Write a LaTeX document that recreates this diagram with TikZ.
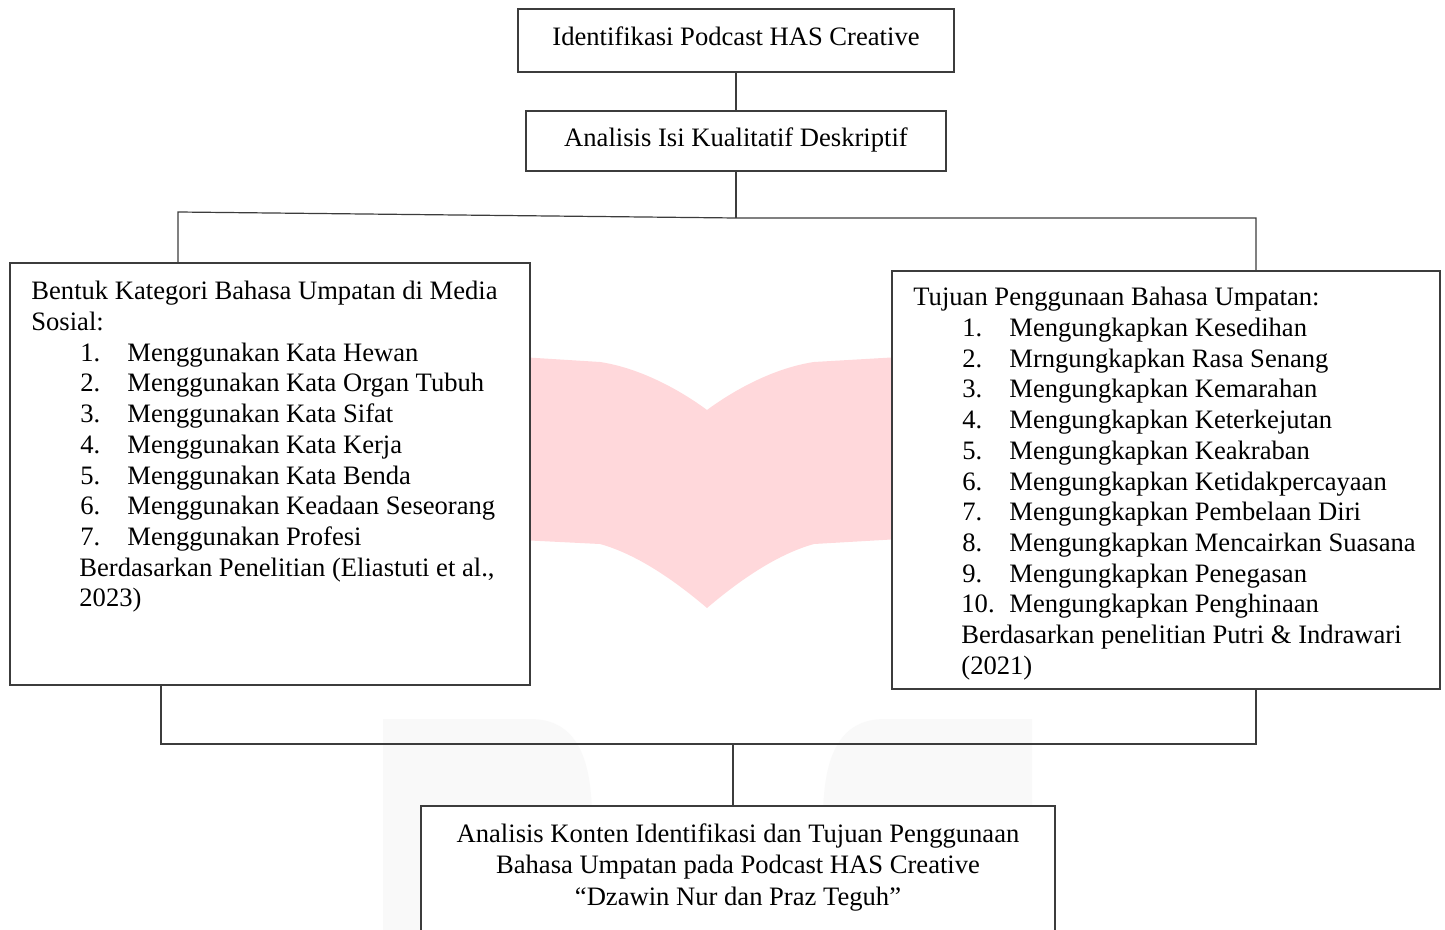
\documentclass[tikz,border=0pt]{standalone}
\usepackage{fontspec}
\setmainfont{Liberation Serif}
\usepackage{tikz}
\usetikzlibrary{positioning}
\definecolor{linegray}{RGB}{60, 60, 60}
\definecolor{bookpink}{RGB}{255, 216, 219}
\definecolor{markgray}{RGB}{249, 249, 249}
\newcommand{\txtfont}{\fontsize{13.3pt}{15.35pt}\selectfont}
\newcommand{\itm}[2]{\hspace*{24.5pt}\makebox[23.5pt][l]{#1}#2}
\tikzstyle{box} = [rectangle, draw=linegray, line width=0.8pt, fill=white, inner sep=0pt]
\tikzstyle{smallbox} = [box, font=\txtfont, text height=9pt, text depth=3.75pt]
\tikzstyle{boxtext} = [inner sep=0pt, font=\txtfont, align=left, text=black]
\tikzstyle{link}  = [draw=linegray, line width=0.6pt]

\begin{document}
\begin{tikzpicture}[x=0.5pt, y=-0.5pt]
\clip (0,0) rectangle (1445,930);
\fill[white] (0,0) rectangle (1445,930);

% watermark ==================================
\fill[bookpink] (520,357) -- (600,362) .. controls (640,368) and (680,390) .. (707,410)
  .. controls (734,390) and (774,368) .. (814,362) -- (900,357)
  -- (900,539) -- (814,544) .. controls (774,555) and (734,585) .. (707,608)
  .. controls (680,585) and (640,555) .. (600,544) -- (520,540) -- cycle;
\fill[markgray] (383,930) -- (383,719) -- (530,719) .. controls (575,719) and (592,755) .. (592,820) -- (592,930) -- cycle;
\fill[markgray] (1032,930) -- (1032,719) -- (885,719) .. controls (840,719) and (823,755) .. (823,820) -- (823,930) -- cycle;

% boxes ======================================
\node[smallbox, minimum width=218pt, minimum height=31.5pt] (ident) at (736,40.5) {Identifikasi Podcast HAS Creative};
\node[smallbox, minimum width=210pt, minimum height=30pt] (method) at (736,141) {Analisis Isi Kualitatif Deskriptif};
\node[box, minimum width=260pt, minimum height=211pt] (forms) at (270,474) {};
\node[box, minimum width=274pt, minimum height=209pt] (aims) at (1166,480) {};
\node[box, minimum width=317pt, minimum height=87pt] (result) at (738,893) {};

% box texts
\node[boxtext, anchor=north west] (formstext) at (31,281) {Bentuk Kategori Bahasa Umpatan di Media\\
Sosial:\\
\itm{1.}{Menggunakan Kata Hewan}\\
\itm{2.}{Menggunakan Kata Organ Tubuh}\\
\itm{3.}{Menggunakan Kata Sifat}\\
\itm{4.}{Menggunakan Kata Kerja}\\
\itm{5.}{Menggunakan Kata Benda}\\
\itm{6.}{Menggunakan Keadaan Seseorang}\\
\itm{7.}{Menggunakan Profesi}\\
\hspace*{24pt}Berdasarkan Penelitian (Eliastuti et al.,\\
\hspace*{24pt}2023)};
\node[boxtext, anchor=north west] (aimstext) at (913,287) {Tujuan Penggunaan Bahasa Umpatan:\\
\itm{1.}{Mengungkapkan Kesedihan}\\
\itm{2.}{Mrngungkapkan Rasa Senang}\\
\itm{3.}{Mengungkapkan Kemarahan}\\
\itm{4.}{Mengungkapkan Keterkejutan}\\
\itm{5.}{Mengungkapkan Keakraban}\\
\itm{6.}{Mengungkapkan Ketidakpercayaan}\\
\itm{7.}{Mengungkapkan Pembelaan Diri}\\
\itm{8.}{Mengungkapkan Mencairkan Suasana}\\
\itm{9.}{Mengungkapkan Penegasan}\\
\hspace*{24pt}\makebox[24pt][l]{10.}Mengungkapkan Penghinaan\\
\hspace*{24pt}Berdasarkan penelitian Putri \& Indrawari\\
\hspace*{24pt}(2021)};
\node[boxtext, align=center, anchor=north, font=\fontsize{13.3pt}{15.75pt}\selectfont] (resulttext) at (738,823)
  {Analisis Konten Identifikasi dan Tujuan Penggunaan\\
   Bahasa Umpatan pada Podcast HAS Creative\\
   “Dzawin Nur dan Praz Teguh”};

% edges ======================================
\coordinate (split) at (736,218);
\coordinate (ltop) at (178,212);
\coordinate (rtop) at (1256,218);
\coordinate (lbot) at (161,744);
\coordinate (rbot) at (1256,744);
\coordinate (join) at (733,744);

\path[link] (ident) -- (method);
\path[link] (method.south) -- (split);
\path[link] (ltop |- forms.north) -- (ltop) -- (split) -- (rtop) -- (rtop |- aims.north);
\path[link] (forms.south -| lbot) -- (lbot) -- (rbot) -- (rbot |- aims.south);
\path[link] (join) -- (join |- result.north);

\end{tikzpicture}
\end{document}
